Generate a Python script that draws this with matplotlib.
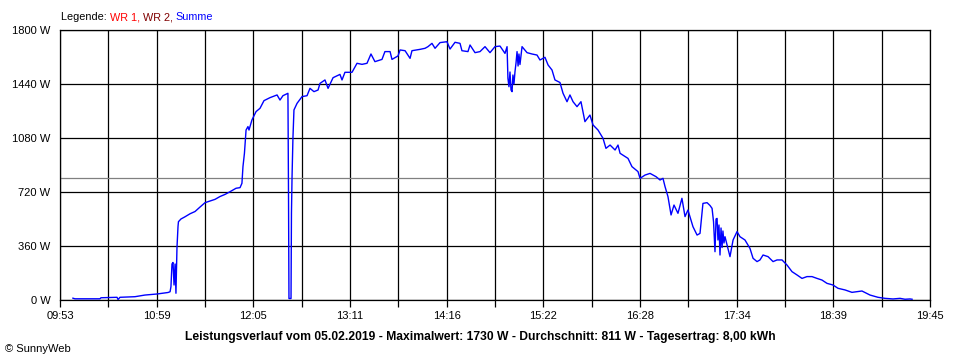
import matplotlib
matplotlib.use("Agg")
import matplotlib.pyplot as plt
import numpy as np

plt.rcParams['font.family'] = ['Liberation Sans', 'DejaVu Sans']

# time in minutes after midnight, power in W (series "Summe")
time_min = [601.8, 603.2, 620.2, 620.9, 631.8, 632.5, 633.8, 644.0, 650.8, 659.0,
            666.5, 667.9, 668.5, 669.2, 669.9, 670.6, 671.3, 671.9, 672.6, 673.3,
            673.6, 675.3, 678.1, 681.5, 684.9, 688.3, 691.7, 695.1, 698.5, 701.9,
            705.3, 708.7, 712.8, 715.5, 716.8, 717.5, 718.5, 719.6, 720.9, 721.6,
            723.6, 726.4, 729.1, 731.8, 735.9, 740.7, 742.7, 744.7, 748.1, 748.5,
            748.8, 750.2, 750.5, 750.9, 751.5, 752.2, 754.3, 757.7, 761.1, 763.1,
            765.8, 768.6, 769.9, 773.3, 775.4, 778.8, 783.5, 784.9, 786.9, 791.7,
            795.1, 798.5, 801.9, 804.6, 807.3, 812.1, 814.1, 817.6, 818.9, 823.0,
            824.4, 827.8, 831.2, 832.5, 838.0, 841.4, 843.4, 846.1, 848.2, 851.6,
            856.3, 858.4, 861.8, 865.2, 866.5, 870.6, 872.0, 875.4, 878.8, 882.2,
            885.6, 889.0, 892.4, 895.8, 897.2, 897.8, 898.5, 899.2, 899.9, 900.6,
            901.2, 901.9, 902.6, 903.3, 904.0, 904.7, 905.3, 906.0, 906.7, 907.4,
            910.8, 914.2, 917.6, 919.6, 923.0, 925.1, 927.8, 929.8, 933.2, 935.3,
            938.0, 940.0, 942.1, 944.8, 947.5, 950.2, 953.6, 955.7, 959.1, 962.5,
            964.5, 967.3, 970.7, 972.7, 974.1, 979.5, 982.2, 986.3, 987.7, 991.1,
            994.5, 998.6, 1001.3, 1003.3, 1004.7, 1006.7, 1008.8, 1010.8, 1013.5, 1016.2,
            1018.3, 1020.3, 1023.7, 1026.5, 1028.5, 1030.5, 1033.3, 1035.3, 1036.7, 1037.7,
            1038.7, 1039.4, 1040.1, 1040.7, 1041.4, 1042.1, 1042.8, 1043.5, 1044.1, 1044.8,
            1045.5, 1046.9, 1048.9, 1051.0, 1053.7, 1055.7, 1059.1, 1062.5, 1064.6, 1067.3,
            1069.3, 1071.4, 1074.8, 1078.2, 1080.9, 1084.3, 1087.7, 1091.1, 1094.5, 1097.9,
            1101.3, 1104.7, 1108.1, 1111.5, 1114.9, 1119.0, 1122.4, 1127.2, 1131.9, 1138.7,
            1144.2, 1149.6, 1154.4, 1159.8, 1164.6, 1168.0, 1171.4, 1172.8]
power_w = [12, 8, 8, 15, 18, 3, 18, 22, 33, 40,
           50, 55, 89, 240, 250, 100, 240, 45, 350, 490,
           522, 540, 555, 575, 590, 620, 649, 660, 671, 690,
           704, 722, 745, 749, 778, 889, 978, 1133, 1156, 1133,
           1200, 1256, 1278, 1329, 1349, 1367, 1333, 1362, 1378, 689,
           10, 10, 580, 822, 1078, 1267, 1311, 1356, 1362, 1411,
           1389, 1400, 1444, 1467, 1411, 1482, 1504, 1467, 1518, 1518,
           1578, 1571, 1578, 1640, 1589, 1604, 1656, 1656, 1604, 1627,
           1667, 1662, 1611, 1662, 1671, 1678, 1689, 1711, 1678, 1716,
           1722, 1673, 1718, 1711, 1662, 1656, 1700, 1649, 1656, 1689,
           1649, 1689, 1693, 1644, 1689, 1478, 1422, 1520, 1400, 1389,
           1500, 1440, 1522, 1580, 1656, 1560, 1640, 1570, 1630, 1689,
           1649, 1640, 1633, 1600, 1618, 1567, 1533, 1467, 1450, 1378,
           1322, 1367, 1322, 1289, 1322, 1189, 1233, 1167, 1133, 1078,
           1011, 1033, 1000, 1033, 978, 944, 889, 856, 811, 833,
           844, 822, 800, 811, 756, 689, 567, 633, 578, 678,
           556, 600, 489, 433, 444, 644, 649, 630, 611, 522,
           322, 540, 544, 400, 500, 300, 480, 350, 460, 380,
           422, 367, 289, 400, 456, 422, 400, 344, 278, 256,
           267, 300, 289, 256, 267, 267, 233, 189, 167, 144,
           156, 156, 144, 133, 111, 100, 78, 67, 51, 60,
           33, 18, 11, 7, 11, 5, 7, 5]

x_tick_labels = ["09:53", "10:59", "12:05", "13:11", "14:16",
                 "15:22", "16:28", "17:34", "18:39", "19:45"]
x_start, x_end = 593, 1185
y_ticks = [0, 360, 720, 1080, 1440, 1800]
average_w = 811
title = ("Leistungsverlauf vom 05.02.2019 - Maximalwert: 1730 W - "
         "Durchschnitt: 811 W - Tagesertrag: 8,00 kWh")
legend_parts = [("Legende: ", "#000000"), ("WR 1, ", "#ff0000"),
                ("WR 2, ", "#800000"), ("Summe", "#0000ff")]

fig = plt.figure(figsize=(9.6, 3.6), dpi=100)
ax = fig.add_axes([60/960, 60/360, 870/960, 270/360])

major = np.linspace(x_start, x_end, len(x_tick_labels))
minor = np.linspace(x_start, x_end, 2*(len(x_tick_labels)-1)+1)

for xv in minor:
    ax.axvline(xv, color="black", lw=0.9, zorder=1)
for yv in y_ticks:
    ax.axhline(yv, color="black", lw=0.9, zorder=1)
ax.axhline(average_w, color="#808080", lw=0.9, zorder=1)

ax.plot(time_min, power_w, color="#0000ff", lw=1.0, zorder=3)

ax.set_xlim(x_start, x_end)
ax.set_ylim(0, 1800)
ax.set_xticks(major)
ax.set_xticklabels(x_tick_labels)
ax.set_xticks(minor, minor=True)
ax.set_yticks(y_ticks)
ax.set_yticklabels([f"{v} W" for v in y_ticks])
ax.tick_params(axis="x", which="both", length=5, width=0.9, color="black",
               labelsize=8, pad=3)
ax.tick_params(axis="y", length=0, labelsize=8, pad=7)
for s in ax.spines.values():
    s.set_color("black")
    s.set_linewidth(0.9)

fig.text(480/960, 1 - 337/360, title, ha="center", va="center",
         fontsize=8.7, fontweight="bold")
fig.text(5/960, 1 - 349/360, "\u00a9 SunnyWeb", ha="left", va="center", fontsize=8)

fig.canvas.draw()
renderer = fig.canvas.get_renderer()
xpix = 61
for txt, col in legend_parts:
    t = fig.text(xpix/960, 1 - 17/360, txt, ha="left", va="center",
                 fontsize=7.8, color=col)
    bb = t.get_window_extent(renderer=renderer)
    xpix += bb.width

fig.savefig("out.png", dpi=100)
